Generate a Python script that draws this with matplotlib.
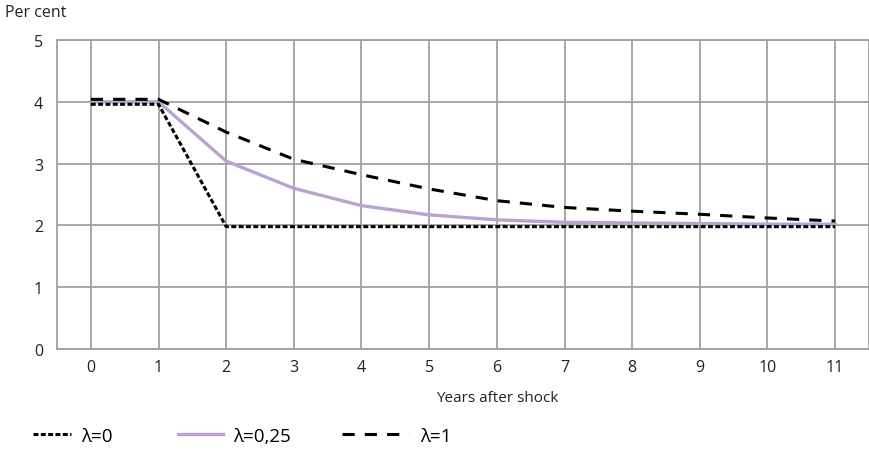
#!/usr/bin/env python3

"""
Inflation path after a shock for different lambda values
"""

import matplotlib.pyplot as plt

plt.rcParams['font.family'] = ['Open Sans', 'DejaVu Sans']

years = list(range(12))
lam0 = [3.96, 3.96, 1.98, 1.98, 1.98, 1.98, 1.98, 1.98, 1.98, 1.98, 1.98, 1.98]
lam025 = [4.0, 4.0, 3.04, 2.6, 2.32, 2.17, 2.09, 2.05, 2.04, 2.03, 2.02, 2.02]
lam1 = [4.04, 4.04, 3.51, 3.07, 2.82, 2.59, 2.4, 2.29, 2.23, 2.18, 2.12, 2.07]
labels = ['λ=0', 'λ=0,25', 'λ=1']

GRID = '#a0a0a0'
PURPLE = '#b9a4cf'
TXT = '#222222'
W, H = 870, 456

fig = plt.figure(figsize=(W / 100, H / 100), dpi=100)
ax = fig.add_axes([57 / W, 1 - 350 / H, 812 / W, 309 / H])

l0, = ax.plot(years, lam0, color='black', lw=2.2, dashes=(1.6, 0.8),
              label=labels[0], zorder=3)
l1, = ax.plot(years, lam025, color=PURPLE, lw=2.4, label=labels[1], zorder=2)
l2, = ax.plot(years, lam1, color='black', lw=2.2, dashes=(4, 3.3),
              label=labels[2], zorder=3)

ax.set_xlim(-0.5, 11.5)
ax.set_ylim(0, 5)
ax.set_xticks(years)
ax.set_yticks(range(6))
ax.grid(True, color=GRID, lw=1.3)
ax.set_axisbelow(True)
for sp in ax.spines.values():
    sp.set_color(GRID)
    sp.set_linewidth(1.3)
ax.tick_params(length=0, labelsize=11.5, colors=TXT, pad=7)
ax.tick_params(axis='y', pad=10)

fig.text(497 / W, 1 - 398 / H, 'Years after shock', fontsize=11,
         ha='center', va='center', color=TXT)
fig.text(0.006, 0.988, 'Per cent', fontsize=11.5, va='top', color=TXT)

# one legend per entry so each handle keeps its own length
for line, x0, hl in [(l0, 33, 2.0), (l1, 178, 2.4), (l2, 342, 3.6)]:
    fig.legend(handles=[line], loc='center left',
               bbox_to_anchor=(x0 / W, 1 - 437 / H), frameon=False,
               fontsize=13.5, handlelength=hl, handletextpad=0.55,
               borderpad=0, borderaxespad=0)

fig.savefig('out.png', dpi=100)
